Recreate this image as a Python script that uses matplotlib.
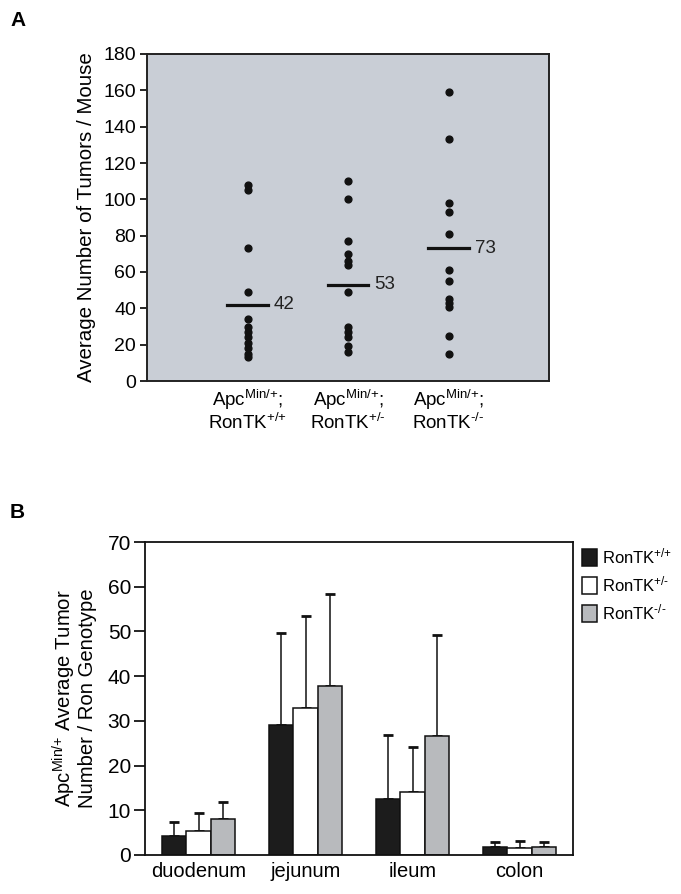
import numpy as np
import matplotlib
matplotlib.use("Agg")
from matplotlib import pyplot as plt
from matplotlib.patches import Patch

plt.rcParams['font.family'] = ['Liberation Sans', 'DejaVu Sans']
plt.rcParams['mathtext.default'] = 'regular'

# panel A : tumors per mouse
genotypes_a = ["Apc$^{Min/{+}}$;\nRonTK$^{{+}/{+}}$",
               "Apc$^{Min/{+}}$;\nRonTK$^{{+}/\u2010}$",
               "Apc$^{Min/{+}}$;\nRonTK$^{\u2010/\u2010}$"]
wt_counts = [108, 105, 73, 49, 34, 30, 27, 24, 21, 18, 15, 13]
het_counts = [110, 100, 77, 70, 66, 64, 49, 30, 27, 24, 19, 16]
ko_counts = [159, 133, 98, 93, 81, 61, 55, 45, 43, 41, 25, 15]
means_a = [42, 53, 73]

# panel B : tumors per intestinal segment
segments = ["duodenum", "jejunum", "ileum", "colon"]
series_names = ["RonTK$^{{+}/{+}}$", "RonTK$^{{+}/\u2010}$", "RonTK$^{\u2010/\u2010}$"]
wt_mean = [4.3, 29.0, 12.5, 1.7]
wt_top = [7.4, 49.6, 26.8, 3.0]
het_mean = [5.3, 32.9, 14.0, 1.6]
het_top = [9.4, 53.5, 24.1, 3.1]
ko_mean = [8.0, 37.7, 26.6, 1.9]
ko_top = [11.9, 58.4, 49.1, 3.0]

W, H = 681, 894
fig = plt.figure(figsize=(W / 100, H / 100), dpi=100)

# ---------------- A ----------------
axA = fig.add_axes([147 / W, 1 - 381 / H, 402 / W, 327 / H])
axA.set_facecolor('#c9ced6')
for i, vals in enumerate([wt_counts, het_counts, ko_counts]):
    x = i + 1
    axA.scatter([x] * len(vals), vals, s=24, color='#111111', zorder=3)
    axA.plot([x - 0.2, x + 0.2], [means_a[i], means_a[i]], color='#111111', lw=2.3, zorder=3)
    axA.text(x + 0.26, means_a[i], str(means_a[i]), va='center', ha='left',
             fontsize=13.5, color='#222222')
axA.set_xlim(0, 4)
axA.set_ylim(0, 180)
axA.set_yticks(np.arange(0, 181, 20))
axA.set_xticks([1, 2, 3])
axA.set_xticklabels(genotypes_a, fontsize=13.5, linespacing=1.05)
axA.tick_params(axis='x', length=0, pad=5)
axA.tick_params(axis='y', length=5, width=1.2, labelsize=14, pad=3)
for s in axA.spines.values():
    s.set_linewidth(1.4)
    s.set_color('#222222')
axA.set_ylabel("Average Number of Tumors / Mouse", fontsize=14.8, labelpad=5)
fig.text(10 / W, 1 - 20 / H, "A", fontsize=15, fontweight='bold', va='center')

# ---------------- B ----------------
axB = fig.add_axes([145 / W, 1 - 855 / H, 428 / W, 313 / H])
x = np.arange(len(segments))
bw = 0.225
fills = ['#1c1c1c', 'white', '#b8babd']
for k, (m, t) in enumerate([(wt_mean, wt_top), (het_mean, het_top), (ko_mean, ko_top)]):
    pos = x + (k - 1) * bw
    err = np.array(t) - np.array(m)
    axB.bar(pos, m, width=bw, color=fills[k], edgecolor='#111111', linewidth=1.1, zorder=2)
    axB.errorbar(pos, m, yerr=[np.zeros(len(m)), err], fmt='none', ecolor='#111111',
                 elinewidth=1.1, capsize=3.5, capthick=2, zorder=1)
axB.set_xlim(-0.5, 3.5)
axB.set_ylim(0, 70)
axB.set_yticks(np.arange(0, 71, 10))
axB.set_xticks(x)
axB.set_xticklabels(segments, fontsize=14.5)
axB.tick_params(axis='x', length=0, pad=5)
axB.tick_params(axis='y', length=8, width=1.2, labelsize=15, pad=2)
for s in axB.spines.values():
    s.set_linewidth(1.3)
    s.set_color('#111111')
axB.set_ylabel("Apc$^{Min/{+}}$ Average Tumor\nNumber / Ron Genotype", fontsize=14.6,
               linespacing=1.0, labelpad=8)
fig.text(10 / W, 1 - 512 / H, "B", fontsize=15, fontweight='bold', va='center')

handles = [Patch(facecolor=c, edgecolor='#111111', linewidth=1.1) for c in fills]
fig.legend(handles, series_names, loc='upper left', bbox_to_anchor=(582 / W, 1 - 546 / H),
           frameon=False, fontsize=12, handlelength=0.9, handleheight=1.2,
           handletextpad=0.3, labelspacing=0.5, borderaxespad=0, borderpad=0)

fig.savefig("out.png", dpi=100)
